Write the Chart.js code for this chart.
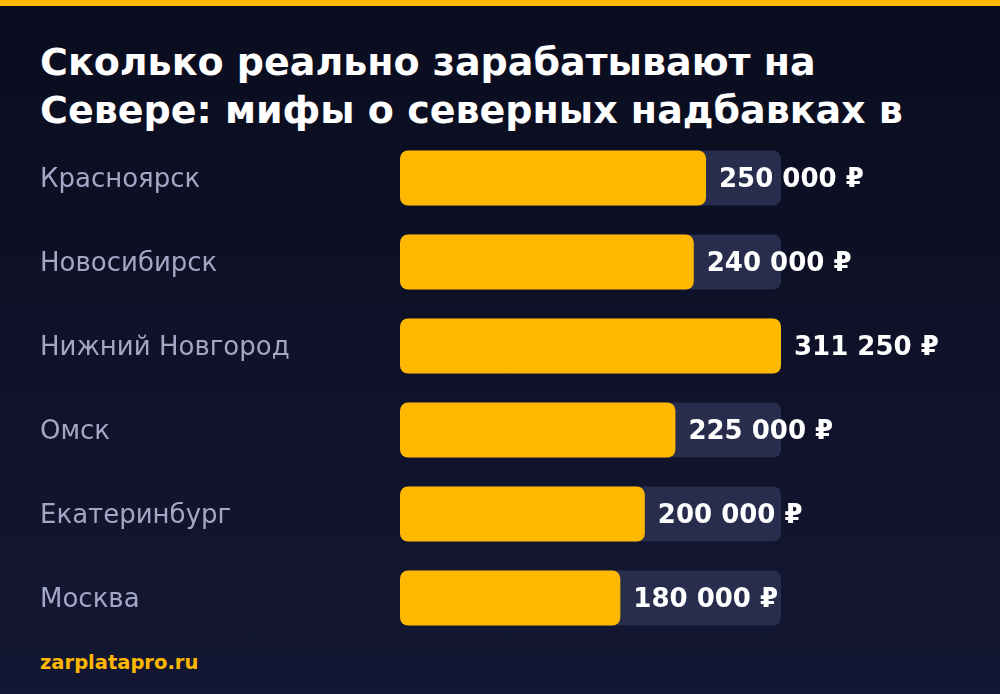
<!DOCTYPE html>
<html>
<head>
<meta charset="utf-8">
<script src="https://cdn.jsdelivr.net/npm/chart.js@4"></script>
<style>
  html, body { margin: 0; padding: 0; }
  body {
    width: 1000px; height: 694px; overflow: hidden; position: relative;
    background: linear-gradient(180deg, #0a0c1e 0%, #141733 100%);
    font-family: "DejaVu Sans", sans-serif;
  }
  #stripe { position: absolute; left: 0; top: 0; width: 1000px; height: 6px; background: #ffb800; }
  #title {
    position: absolute; left: 40px; top: 38px; width: 920px; height: 96px; overflow: hidden;
    color: #fff; font-weight: bold; font-size: 38px; line-height: 48px;
  }
  #wrap { position: absolute; left: 0; top: 136px; width: 1000px; height: 504px; }
  #footer { position: absolute; left: 40px; top: 651px; color: #ffb800; font-weight: bold; font-size: 19.5px; }
</style>
</head>
<body>
<div id="stripe"></div>
<div id="title">Сколько реально зарабатывают на Севере: мифы о северных надбавках в 2024 году</div>
<div id="wrap"><canvas id="barChart"></canvas></div>
<div id="footer">zarplatapro.ru</div>
<script>
var cities = ["Красноярск", "Новосибирск", "Нижний Новгород", "Омск", "Екатеринбург", "Москва"];
var salaries = [250000, 240000, 311250, 225000, 200000, 180000];
var maxSalary = Math.max.apply(null, salaries);
var track = cities.map(function () { return maxSalary; });

function fmt(v) {
  return String(v).replace(/\B(?=(\d{3})+(?!\d))/g, " ") + " ₽";
}

var labelsPlugin = {
  id: "labels",
  afterDatasetsDraw: function (chart) {
    var c = chart.ctx;
    var meta = chart.getDatasetMeta(1);
    c.save();
    c.textBaseline = "middle";
    meta.data.forEach(function (bar, i) {
      c.font = "26px 'DejaVu Sans'";
      c.fillStyle = "#a3a6c4";
      c.textAlign = "left";
      c.fillText(cities[i], 40, bar.y + 2);
      c.font = "bold 26px 'DejaVu Sans'";
      c.fillStyle = "#ffffff";
      c.fillText(fmt(salaries[i]), bar.x + 13, bar.y + 2);
    });
    c.restore();
  }
};

var ctx = document.getElementById("barChart");
var myChart = new Chart(ctx, {
  type: "bar",
  data: {
    labels: cities,
    datasets: [{
      data: track,
      backgroundColor: "#292d4d",
      borderRadius: 8,
      borderSkipped: false,
      grouped: false,
      barPercentage: 0.655,
      categoryPercentage: 1,
      order: 2
    }, {
      data: salaries,
      backgroundColor: "#ffb800",
      borderRadius: 8,
      borderSkipped: false,
      grouped: false,
      barPercentage: 0.655,
      categoryPercentage: 1,
      order: 1
    }]
  },
  options: {
    indexAxis: "y",
    responsive: true,
    maintainAspectRatio: false,
    animation: false,
    layout: { padding: { left: 400, right: 219, top: 0, bottom: 0 } },
    scales: {
      x: { display: false, min: 0, max: maxSalary },
      y: { display: false }
    },
    plugins: { legend: { display: false }, tooltip: { enabled: false } }
  },
  plugins: [labelsPlugin]
});
</script>
</body>
</html>
